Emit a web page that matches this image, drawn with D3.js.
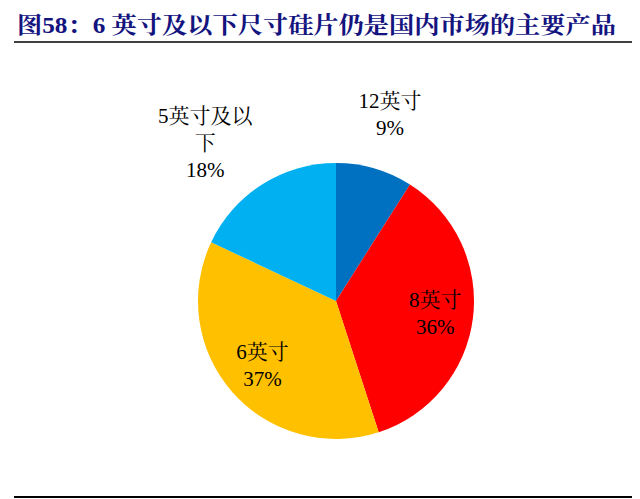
<!DOCTYPE html>
<html>
<head>
<meta charset="utf-8">
<script src="https://cdn.jsdelivr.net/npm/d3@7"></script>
<style>
  body { margin: 0; background: #fff; }
  svg { display: block; }
</style>
</head>
<body>
<svg width="640" height="499"></svg>
<script>
// chart data
var categories = ["12英寸", "8英寸", "6英寸", "5英寸及以下"];
var shares = [9, 36, 37, 18];
var colors = ["#0070C0", "#FF0000", "#FFC000", "#00B0F0"];
var titleText = "图58：6 英寸及以下尺寸硅片仍是国内市场的主要产品";

var width = 640, height = 499;
var cx = 336, cy = 301, radius = 138;
var labelFont = "'Liberation Serif', 'Noto Serif CJK SC', 'Noto Sans CJK SC', serif";

var svg = d3.select("svg");

// title + rules
svg.append("text")
    .attr("x", 17)
    .attr("y", 33)
    .attr("textLength", 599)
    .attr("lengthAdjust", "spacingAndGlyphs")
    .style("font-family", labelFont)
    .style("font-weight", "bold")
    .style("font-size", "23px")
    .style("fill", "#14147f")
    .text(titleText);

svg.append("line")
    .attr("x1", 14).attr("x2", 632)
    .attr("y1", 42).attr("y2", 42)
    .attr("stroke", "#000").attr("stroke-width", 1.6);

svg.append("line")
    .attr("x1", 14).attr("x2", 632)
    .attr("y1", 497).attr("y2", 497)
    .attr("stroke", "#000").attr("stroke-width", 2);

var pie = d3.pie().sort(null).value(function(d){ return d; });
var arcs = pie(shares);

var arc = d3.arc().innerRadius(0).outerRadius(radius);

var g = svg.append("g").attr("transform", "translate(" + cx + "," + cy + ")");

g.selectAll("path.slice")
    .data(arcs)
    .enter().append("path")
    .attr("class", "slice")
    .attr("d", arc)
    .attr("fill", function(d, i){ return colors[i]; });

// label placement: inside labels near centroid, outside for small slices
var labelRadius = [194, 100, 98, 205];
var nudge = [[0, 0], [0, 0], [0, 0], [-21, 15]];
var lineH = 27;

arcs.forEach(function(d, i){
    var mid = (d.startAngle + d.endAngle) / 2;
    var x = Math.sin(mid) * labelRadius[i] + nudge[i][0];
    var y = -Math.cos(mid) * labelRadius[i] + nudge[i][1];
    // wrap long names every 5 chars
    var name = categories[i];
    var lines = [];
    for (var k = 0; k < name.length; k += 5) lines.push(name.slice(k, k + 5));
    lines.push(shares[i] + "%");
    var t = g.append("text")
        .attr("text-anchor", "middle")
        .style("font-family", labelFont)
        .style("font-size", "21px")
        .style("fill", "#000");
    lines.forEach(function(s, j){
        t.append("tspan")
            .attr("x", x)
            .attr("y", y + (j - (lines.length - 1) / 2) * lineH + 7)
            .text(s);
    });
});
</script>
</body>
</html>
